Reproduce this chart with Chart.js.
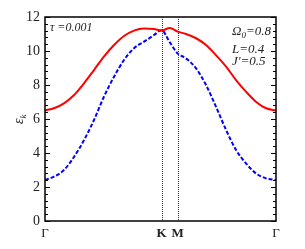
<!DOCTYPE html>
<html>
<head>
<meta charset="utf-8">
<script src="https://cdn.jsdelivr.net/npm/chart.js@4/dist/chart.umd.min.js"></script>
<style>
html,body{margin:0;padding:0;background:#fff;}
#wrap{width:305px;height:249px;position:relative;}
</style>
</head>
<body>
<div id="wrap"><canvas id="c" width="305" height="249"></canvas></div>
<script>
// Path coordinate along Γ–K–M–Γ (normalized)
const kPath = [0, 0.039, 0.082, 0.126, 0.169, 0.212, 0.255, 0.299, 0.342, 0.385, 0.429, 0.472, 0.505, 0.540, 0.574, 0.610, 0.654, 0.697, 0.740, 0.784, 0.827, 0.870, 0.913, 0.957, 1];
const upperBand = [6.5, 6.63, 6.92, 7.41, 8.10, 8.88, 9.67, 10.35, 10.88, 11.20, 11.33, 11.29, 11.20, 11.36, 11.14, 11.00, 10.75, 10.35, 9.76, 9.08, 8.29, 7.61, 7.02, 6.63, 6.5];
const lowerBand = [2.41, 2.61, 3.00, 3.78, 4.76, 5.94, 7.31, 8.49, 9.47, 10.16, 10.55, 10.94, 11.22, 10.52, 9.86, 9.57, 8.98, 8.00, 6.73, 5.35, 4.18, 3.39, 2.80, 2.51, 2.41];
const symPoints = [0, 0.505, 0.574, 1];
const symLabels = ['Γ', 'K', 'M', 'Γ'];
const yTicks = [0, 2, 4, 6, 8, 10, 12];
const params = ['Ω', '=0.8', 'L=0.4', "J'=0.5"];
const tauText = 'τ =0.001';

const serif = "'Liberation Serif', 'DejaVu Serif', serif";

const toXY = arr => arr.map((v, i) => ({x: kPath[i], y: v}));

const decor = {
  id: 'decor',
  afterDatasetsDraw(chart) {
    const ctx = chart.ctx, a = chart.chartArea;
    const xs = chart.scales.x, ys = chart.scales.y;
    ctx.save();
    // vertical dotted lines at K and M
    ctx.strokeStyle = '#333';
    ctx.lineWidth = 1;
    ctx.setLineDash([1, 1]);
    [symPoints[1], symPoints[2]].forEach(v => {
      const px = Math.round(xs.getPixelForValue(v)) + 0.5;
      ctx.beginPath(); ctx.moveTo(px, a.top); ctx.lineTo(px, a.bottom); ctx.stroke();
    });
    ctx.setLineDash([]);
    // frame
    ctx.strokeStyle = '#000';
    ctx.lineWidth = 1.5;
    ctx.strokeRect(a.left, a.top, a.right - a.left, a.bottom - a.top);
    // inward ticks left & right
    ctx.lineWidth = 1;
    for (let i = 0; i <= 30; i++) {
      const v = i * 0.4;
      const py = Math.round(ys.getPixelForValue(v)) + 0.5;
      const major = (i % 5 === 0);
      const len = major ? 5 : 3;
      ctx.beginPath();
      ctx.moveTo(a.left, py); ctx.lineTo(a.left + len, py);
      ctx.moveTo(a.right, py); ctx.lineTo(a.right - len, py);
      ctx.stroke();
    }
    // annotations
    ctx.fillStyle = '#222';
    ctx.textBaseline = 'middle';
    ctx.textAlign = 'left';
    ctx.font = 'italic 12px ' + serif;
    ctx.fillText(tauText, a.left + 5, a.top + 11);
    // right parameters
    const rx = a.right - 44;
    ctx.font = 'italic 13px ' + serif;
    ctx.fillText(params[0], rx, a.top + 15);
    let w = ctx.measureText(params[0]).width;
    ctx.font = 'italic 9px ' + serif;
    ctx.fillText('0', rx + w, a.top + 19);
    let w2 = ctx.measureText('0').width;
    ctx.font = 'italic 13px ' + serif;
    ctx.fillText(params[1], rx + w + w2, a.top + 15);
    ctx.fillText(params[2], rx, a.top + 32.5);
    ctx.fillText(params[3], rx, a.top + 45);
    // y axis title ε_k
    ctx.translate(19, 124);
    ctx.rotate(-Math.PI / 2);
    ctx.font = 'italic 14px ' + serif;
    ctx.fillText('ε', 0, 0);
    const we = ctx.measureText('ε').width;
    ctx.font = 'italic 9px ' + serif;
    ctx.fillText('k', we, 5);
    ctx.restore();
  }
};

new Chart(document.getElementById('c'), {
  type: 'line',
  data: {
    datasets: [
      {data: toXY(upperBand), borderColor: 'rgb(255,0,0)', borderWidth: 2, pointRadius: 0, cubicInterpolationMode: 'monotone', fill: false},
      {data: toXY(lowerBand), borderColor: 'rgb(0,0,255)', borderWidth: 2, borderDash: [4, 2], pointRadius: 0, cubicInterpolationMode: 'monotone', fill: false}
    ]
  },
  options: {
    responsive: false,
    animation: false,
    devicePixelRatio: 1,
    layout: {padding: {top: 17, right: 29, left: 0, bottom: 0}},
    plugins: {legend: {display: false}, tooltip: {enabled: false}},
    scales: {
      x: {
        type: 'linear', min: 0, max: 1,
        afterBuildTicks: s => { s.ticks = symPoints.map(v => ({value: v})); },
        afterFit: s => { s.height = 28; },
        grid: {display: false, drawTicks: false},
        border: {display: false},
        ticks: {
          autoSkip: false, maxRotation: 0, padding: 5, color: '#222',
          callback: (v, i) => symLabels[i],
          font: ctx => ({family: serif, size: 13, weight: (ctx.index === 1 || ctx.index === 2) ? 'bold' : 'normal'})
        }
      },
      y: {
        min: 0, max: 12,
        afterBuildTicks: s => { s.ticks = yTicks.map(v => ({value: v})); },
        afterFit: s => { s.width = 45; },
        grid: {display: false, drawTicks: false},
        border: {display: false},
        ticks: {padding: 5, color: '#222', font: {family: serif, size: 14}}
      }
    }
  },
  plugins: [decor]
});
</script>
</body>
</html>
